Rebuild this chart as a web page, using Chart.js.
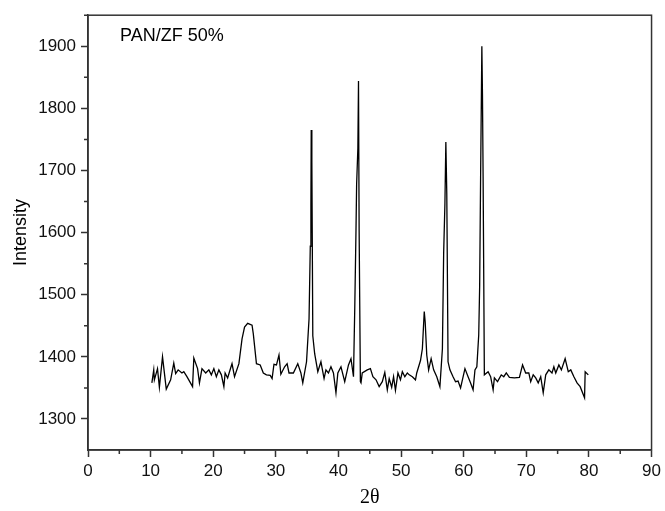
<!DOCTYPE html>
<html>
<head>
<meta charset="utf-8">
<script src="https://cdn.jsdelivr.net/npm/chart.js@4/dist/chart.umd.min.js"></script>
<style>
  html, body { margin: 0; padding: 0; background: #fff; }
  #wrap { width: 665px; height: 511px; }
</style>
</head>
<body>
<div id="wrap"><canvas id="myChart" width="665" height="511"></canvas></div>
<script>
// 2theta positions and intensities
var twoTheta = [10.2, 10.5, 10.6, 11.1, 11.4, 11.9, 12.5, 13.2, 13.7, 14.0, 14.4, 15.0, 15.3, 15.8, 16.7, 16.9, 17.5, 17.8, 18.2, 18.8,
    19.3, 19.7, 20.1, 20.5, 20.9, 21.3, 21.7, 21.9, 22.3, 22.6, 23.0, 23.4, 24.1, 24.6, 25.0, 25.5, 26.2, 26.4, 26.9, 27.5,
    28.0, 28.5, 29.1, 29.4, 29.7, 30.1, 30.5, 30.8, 31.4, 31.8, 32.1, 32.8, 33.5, 34.0, 34.3, 34.9, 35.3, 35.5, 35.6, 35.65,
    35.75, 35.9, 36.2, 36.7, 37.2, 37.7, 38.0, 38.4, 38.8, 39.2, 39.6, 39.9, 40.4, 41.0, 41.6, 42.0, 42.4, 42.6, 42.8, 42.9,
    43.1, 43.2, 43.3, 43.5, 43.6, 43.8, 44.6, 45.1, 45.5, 46.0, 46.5, 47.0, 47.4, 47.8, 48.1, 48.5, 48.8, 49.1, 49.5, 49.9,
    50.2, 50.6, 51.0, 51.3, 51.8, 52.3, 52.5, 53.1, 53.4, 53.7, 53.85, 54.1, 54.4, 54.8, 55.2, 55.7, 56.2, 56.6, 56.8, 57.0,
    57.15, 57.3, 57.5, 57.8, 58.3, 58.7, 59.1, 59.5, 60.2, 60.7, 61.1, 61.5, 61.8, 62.1, 62.4, 62.55, 62.7, 62.9, 63.0, 63.1,
    63.3, 63.9, 64.3, 64.7, 64.9, 65.4, 66.0, 66.4, 66.8, 67.3, 68.1, 68.9, 69.4, 69.9, 70.4, 70.7, 71.1, 71.5, 71.9, 72.3,
    72.7, 73.1, 73.6, 74.1, 74.4, 74.7, 75.2, 75.6, 76.2, 76.7, 77.1, 77.6, 78.1, 78.6, 79.3, 79.4, 79.9];
var intensity = [1358, 1379, 1363, 1381, 1351, 1400, 1348, 1363, 1390, 1373, 1379, 1374, 1376, 1368, 1352, 1398, 1381, 1358, 1381, 1374,
    1379, 1371, 1381, 1368, 1379, 1371, 1352, 1374, 1366, 1376, 1389, 1368, 1389, 1429, 1448, 1454, 1451, 1437, 1389, 1387,
    1374, 1371, 1370, 1365, 1388, 1387, 1403, 1372, 1384, 1389, 1374, 1374, 1389, 1374, 1358, 1392, 1461, 1578, 1646, 1765,
    1715, 1434, 1405, 1376, 1392, 1365, 1379, 1374, 1384, 1374, 1342, 1374, 1384, 1360, 1387, 1397, 1368, 1477, 1604, 1678,
    1736, 1844, 1604, 1360, 1358, 1374, 1379, 1381, 1368, 1363, 1352, 1360, 1375, 1347, 1365, 1351, 1368, 1346, 1374, 1363,
    1376, 1368, 1374, 1371, 1368, 1363, 1374, 1394, 1413, 1473, 1456, 1403, 1379, 1397, 1379, 1368, 1352, 1413, 1567, 1646,
    1746, 1662, 1392, 1379, 1368, 1360, 1361, 1350, 1381, 1368, 1358, 1347, 1379, 1384, 1435, 1514, 1689, 1900, 1820, 1689,
    1371, 1376, 1368, 1347, 1366, 1360, 1371, 1368, 1374, 1367, 1366, 1367, 1387, 1374, 1374, 1360, 1371, 1366, 1358, 1368,
    1342, 1371, 1379, 1374, 1384, 1374, 1387, 1379, 1397, 1376, 1379, 1368, 1358, 1352, 1334, 1376, 1371];

var sampleLabel = 'PAN/ZF 50%';
var xTitle = '2θ';
var yTitle = 'Intensity';
var xMin = 0, xMax = 90, xStep = 10;
var yMin = 1250, yMax = 1950, yStep = 100;
var yTickValues = [1300, 1400, 1500, 1600, 1700, 1800, 1900];

var points = [];
for (let i = 0; i < twoTheta.length; i++) {
    points.push({x: twoTheta[i], y: intensity[i]});
}

// box round the plot, the minor ticks, and the sample name
var framePlugin = {
    id: 'frame',
    afterDraw: function (chart) {
        var ctx = chart.ctx;
        var a = chart.chartArea;
        var xs = chart.scales.x;
        var ys = chart.scales.y;
        ctx.save();
        ctx.strokeStyle = '#333';
        ctx.lineWidth = 1.5;
        ctx.strokeRect(a.left, a.top, a.right - a.left, a.bottom - a.top);

        // minor ticks
        ctx.beginPath();
        for (let v = xMin + xStep / 2; v < xMax; v += xStep) {
            let px = xs.getPixelForValue(v);
            ctx.moveTo(px, a.bottom);
            ctx.lineTo(px, a.bottom + 4);
        }
        for (let v = yMin + yStep; v <= yMax; v += yStep) {
            let py = ys.getPixelForValue(v);
            ctx.moveTo(a.left, py);
            ctx.lineTo(a.left - 4, py);
        }
        ctx.stroke();

        ctx.fillStyle = '#000';
        ctx.font = '18px "Liberation Sans", Arial, sans-serif';
        ctx.textBaseline = 'middle';
        ctx.fillText(sampleLabel, a.left + 32, a.top + 21);
        ctx.restore();
    }
};

const ctx = document.getElementById('myChart').getContext('2d');
const myChart = new Chart(ctx, {
    type: 'line',
    data: {
        datasets: [{
            label: sampleLabel,
            data: points,
            borderColor: '#000',
            borderWidth: 1.3,
            fill: false,
            tension: 0,
            pointRadius: 0
        }]
    },
    options: {
        responsive: false,
        animation: false,
        layout: {
            padding: {left: 0, right: 8, top: 9, bottom: 0}
        },
        plugins: {
            legend: {display: false},
            tooltip: {enabled: false}
        },
        scales: {
            x: {
                type: 'linear',
                min: xMin,
                max: xMax,
                afterFit: function (scale) { scale.height = 61; },
                ticks: {
                    stepSize: xStep,
                    color: '#111',
                    padding: 4,
                    maxRotation: 0,
                    font: {family: '"Liberation Sans", Arial, sans-serif', size: 17}
                },
                grid: {drawOnChartArea: false, tickLength: 7, tickWidth: 1.5, color: '#333'},
                border: {color: '#333', width: 1.5},
                title: {
                    display: true,
                    text: xTitle,
                    color: '#000',
                    padding: {top: 0, bottom: 1},
                    font: {family: '"Liberation Serif", "Times New Roman", serif', size: 20}
                }
            },
            y: {
                min: yMin,
                max: yMax,
                afterFit: function (scale) { scale.width = 88; },
                afterBuildTicks: function (scale) {
                    scale.ticks = yTickValues.map(function (v) { return {value: v}; });
                },
                ticks: {
                    color: '#111',
                    padding: 5,
                    callback: function (v) { return String(v); },
                    font: {family: '"Liberation Sans", Arial, sans-serif', size: 17}
                },
                grid: {drawOnChartArea: false, tickLength: 7, tickWidth: 1.5, color: '#333'},
                border: {color: '#333', width: 1.5},
                title: {
                    display: true,
                    text: yTitle,
                    color: '#000',
                    padding: {top: 10, bottom: 0},
                    font: {family: '"Liberation Sans", Arial, sans-serif', size: 18}
                }
            }
        }
    },
    plugins: [framePlugin]
});
</script>
</body>
</html>
